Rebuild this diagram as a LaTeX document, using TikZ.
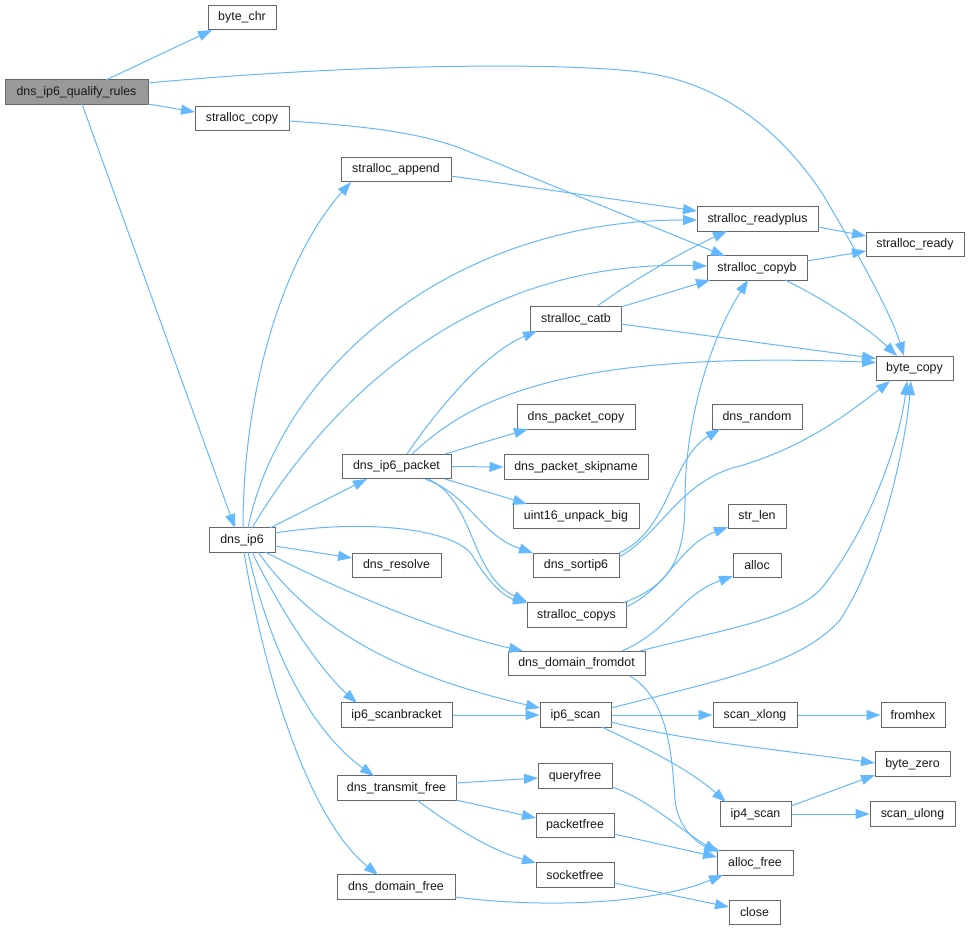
\documentclass[tikz,border=0pt]{standalone}
\usepackage{fontspec}
\setmainfont{Liberation Sans}
\usetikzlibrary{arrows.meta,calc}
\definecolor{boxgray}{HTML}{666666}
\definecolor{qgray}{HTML}{999999}
\definecolor{edgeblue}{HTML}{63B8FF}
\begin{document}
\begin{tikzpicture}[x=1pt,y=-1pt,
 box/.style={draw=boxgray,fill=white,line width=1pt,minimum height=24.5pt,inner sep=0pt,font=\fontsize{12.4}{14}\selectfont,text=black!90},
 e/.style={draw=edgeblue,line width=1pt,-{Triangle[length=14pt,width=10pt]}}]
\useasboundingbox (0,0) rectangle (970,930);
% nodes
\node[box,fill=qgray,minimum width=143pt] (q) at (76.5,92) {dns\_ip6\_qualify\_rules};
\node[box,minimum width=68pt] (bchr) at (242,17.5) {byte\_chr};
\node[box,minimum width=94pt] (scopy) at (242,118.5) {stralloc\_copy};
\node[box,minimum width=110pt] (append) at (396,169.5) {stralloc\_append};
\node[box,minimum width=121pt] (readyplus) at (757.5,219) {stralloc\_readyplus};
\node[box,minimum width=98pt] (ready) at (915,244.5) {stralloc\_ready};
\node[box,minimum width=100pt] (copyb) at (757,268) {stralloc\_copyb};
\node[box,minimum width=91pt] (catb) at (576,319) {stralloc\_catb};
\node[box,minimum width=77pt] (bcopy) at (914.5,368.5) {byte\_copy};
\node[box,minimum width=118pt] (pcopy) at (576,417) {dns\_packet\_copy};
\node[box,minimum width=90pt] (random) at (757,417) {dns\_random};
\node[box,minimum width=144pt] (skipname) at (576,467) {dns\_packet\_skipname};
\node[box,minimum width=109pt] (ip6pkt) at (396.5,466.5) {dns\_ip6\_packet};
\node[box,minimum width=126pt] (uint16) at (576,516) {uint16\_unpack\_big};
\node[box,minimum width=58pt] (strlen) at (757,516.5) {str\_len};
\node[box,minimum width=66pt] (ip6) at (242,540) {dns\_ip6};
\node[box,minimum width=89pt] (resolve) at (396.5,565.5) {dns\_resolve};
\node[box,minimum width=86pt] (sortip6) at (576,565.5) {dns\_sortip6};
\node[box,minimum width=48pt] (alloc) at (757,565.5) {alloc};
\node[box,minimum width=99pt] (copys) at (576.5,615) {stralloc\_copys};
\node[box,minimum width=137pt] (fromdot) at (576.5,663.5) {dns\_domain\_fromdot};
\node[box,minimum width=111pt] (scanbr) at (396.5,715) {ip6\_scanbracket};
\node[box,minimum width=71pt] (ip6scan) at (575.5,715) {ip6\_scan};
\node[box,minimum width=84pt] (xlong) at (755,715) {scan\_xlong};
\node[box,minimum width=64pt] (fromhex) at (913,715) {fromhex};
\node[box,minimum width=75pt] (bzero) at (912.5,764) {byte\_zero};
\node[box,minimum width=74pt] (queryfree) at (575,776) {queryfree};
\node[box,minimum width=119pt] (transfree) at (396.5,788) {dns\_transmit\_free};
\node[box,minimum width=71pt] (ip4scan) at (755.5,814) {ip4\_scan};
\node[box,minimum width=85pt] (ulong) at (912.5,814) {scan\_ulong};
\node[box,minimum width=78pt] (packetfree) at (575,825.5) {packetfree};
\node[box,minimum width=76pt] (allocfree) at (755,863) {alloc\_free};
\node[box,minimum width=78pt] (socketfree) at (575,875) {socketfree};
\node[box,minimum width=118pt] (domfree) at (396,887) {dns\_domain\_free};
\node[box,minimum width=51pt] (close) at (754.5,912.5) {close};
% edges
\draw[e] ($(q)+(29.5,-12)$) -- ($(bchr)+(-30,12.5)$);
\draw[e] ($(q)+(71.5,-9)$) .. controls (350,64) and (560,62) .. (640,72) .. controls (720,82) and (780,130) .. (822,193) .. controls (850,240) and (890,310) .. ($(bcopy)+(-10.5,-12.5)$);
\draw[e] ($(q)+(71.5,12)$) -- ($(scopy)+(-47,-6.5)$);
\draw[e] ($(q)+(5.5,12)$) -- ($(ip6)+(-7,-12)$);
\draw[e] ($(scopy)+(47,2.5)$) .. controls (380,127) and (430,135) .. (470,152) -- ($(copyb)+(-32,-12)$);
\draw[e] ($(append)+(55,6.5)$) -- ($(readyplus)+(-60.5,-8)$);
\draw[e] ($(readyplus)+(60.5,8)$) -- ($(ready)+(-49,-8.5)$);
\draw[e] ($(copyb)+(50,-7)$) -- ($(ready)+(-49,6.5)$);
\draw[e] ($(copyb)+(28,12)$) .. controls (830,302) and (870,330) .. ($(bcopy)+(-17.5,-12.5)$);
\draw[e] ($(catb)+(20,-12)$) .. controls (630,282) and (680,253) .. ($(readyplus)+(-30.5,12)$);
\draw[e] ($(catb)+(45,-12)$) -- ($(copyb)+(-47,12)$);
\draw[e] ($(catb)+(45,5)$) -- ($(bcopy)+(-38.5,-10)$);
\draw[e] ($(ip6)+(1,-12)$) .. controls (243,390) and (283,258) .. ($(append)+(-45,12.5)$);
\draw[e] ($(ip6)+(6,-12)$) .. controls (280,370) and (450,220) .. ($(readyplus)+(-60.5,1)$);
\draw[e] ($(ip6)+(10,-12)$) .. controls (310,430) and (450,258) .. ($(copyb)+(-50,-2)$);
\draw[e] ($(ip6)+(28,-12)$) -- ($(ip6pkt)+(-29.5,12.5)$);
\draw[e] ($(ip6)+(33,6)$) -- ($(resolve)+(-44.5,-7.5)$);
\draw[e] ($(ip6)+(33,-7)$) .. controls (370,518) and (455,530) .. (472,555) .. controls (490,585) and (505,597) .. ($(copys)+(-49.5,-12)$);
\draw[e] ($(ip6)+(23,12)$) .. controls (330,585) and (430,630) .. ($(fromdot)+(-53.5,-12.5)$);
\draw[e] ($(ip6)+(16,12)$) .. controls (320,640) and (420,680) .. ($(ip6scan)+(-35.5,-7)$);
\draw[e] ($(ip6)+(10,12)$) .. controls (280,610) and (320,670) .. ($(scanbr)+(-39.5,-12)$);
\draw[e] ($(ip6)+(6,12)$) .. controls (270,650) and (310,730) .. ($(transfree)+(-22.5,-12)$);
\draw[e] ($(ip6)+(2,12)$) .. controls (265,680) and (310,820) .. ($(domfree)+(-18,-12)$);
\draw[e] ($(ip6pkt)+(10.5,-12.5)$) .. controls (430,420) and (480,355) .. ($(catb)+(-39,12)$);
\draw[e] ($(ip6pkt)+(15.5,-12.5)$) .. controls (470,400) and (560,350) .. ($(bcopy)+(-38.5,-6)$);
\draw[e] ($(ip6pkt)+(48.5,-12.5)$) -- ($(pcopy)+(-48,12)$);
\draw[e] (ip6pkt.east) -- (skipname.west);
\draw[e] ($(ip6pkt)+(48.5,12.5)$) -- ($(uint16)+(-49,-12)$);
\draw[e] ($(ip6pkt)+(28.5,12.5)$) .. controls (470,495) and (480,535) .. ($(sortip6)+(-43,-12.5)$);
\draw[e] ($(ip6pkt)+(31.5,12.5)$) .. controls (475,500) and (470,575) .. ($(copys)+(-49.5,-13)$);
\draw[e] ($(sortip6)+(43,-12.5)$) .. controls (670,530) and (670,460) .. ($(random)+(-37,12)$);
\draw[e] ($(sortip6)+(43,-8.5)$) .. controls (660,535) and (680,480) .. (740,466) .. controls (800,448) and (840,420) .. ($(bcopy)+(-24.5,12.5)$);
\draw[e] ($(copys)+(46.5,-12)$) .. controls (670,585) and (685,560) .. (685,500) .. controls (685,420) and (710,340) .. ($(copyb)+(-9,12)$);
\draw[e] ($(copys)+(49.5,-8)$) .. controls (665,590) and (680,545) .. ($(strlen)+(-29,10.5)$);
\draw[e] ($(fromdot)+(45.5,-12.5)$) .. controls (670,630) and (680,595) .. ($(alloc)+(-24,10.5)$);
\draw[e] ($(fromdot)+(63.5,-12.5)$) .. controls (720,630) and (790,620) .. (820,590) .. controls (870,530) and (900,440) .. ($(bcopy)+(-7.5,12.5)$);
\draw[e] ($(fromdot)+(53.5,12.5)$) .. controls (670,700) and (672,760) .. (675,800) .. controls (678,830) and (700,845) .. ($(allocfree)+(-35,-12)$);
\draw[e] ($(ip6scan)+(35.5,-7)$) .. controls (720,680) and (800,665) .. (840,620) .. controls (880,560) and (905,450) .. ($(bcopy)+(-3.5,12.5)$);
\draw[e] (ip6scan.east) -- (xlong.west);
\draw[e] ($(ip6scan)+(35.5,7)$) .. controls (680,740) and (780,750) .. ($(bzero)+(-37.5,-1)$);
\draw[e] ($(ip6scan)+(26.5,12)$) .. controls (650,750) and (690,770) .. ($(ip4scan)+(-29.5,-12)$);
\draw[e] (scanbr.east) -- (ip6scan.west);
\draw[e] (xlong.east) -- (fromhex.west);
\draw[e] ($(ip4scan)+(35.5,-8)$) -- ($(bzero)+(-37.5,11)$);
\draw[e] (ip4scan.east) -- (ulong.west);
\draw[e] ($(transfree)+(59.5,-5)$) -- ($(queryfree)+(-37,2)$);
\draw[e] ($(transfree)+(59.5,12)$) -- ($(packetfree)+(-39,-7.5)$);
\draw[e] ($(transfree)+(20.5,12)$) .. controls (450,825) and (490,850) .. ($(socketfree)+(-39,-12)$);
\draw[e] ($(queryfree)+(37,11)$) .. controls (650,800) and (680,830) .. ($(allocfree)+(-37,-11)$);
\draw[e] ($(packetfree)+(39,8.5)$) -- ($(allocfree)+(-38,-6)$);
\draw[e] ($(socketfree)+(39,8)$) -- ($(close)+(-25.5,-5.5)$);
\draw[e] ($(domfree)+(59,10)$) .. controls (540,908) and (650,905) .. ($(allocfree)+(-32,12)$);
\end{tikzpicture}
\end{document}
